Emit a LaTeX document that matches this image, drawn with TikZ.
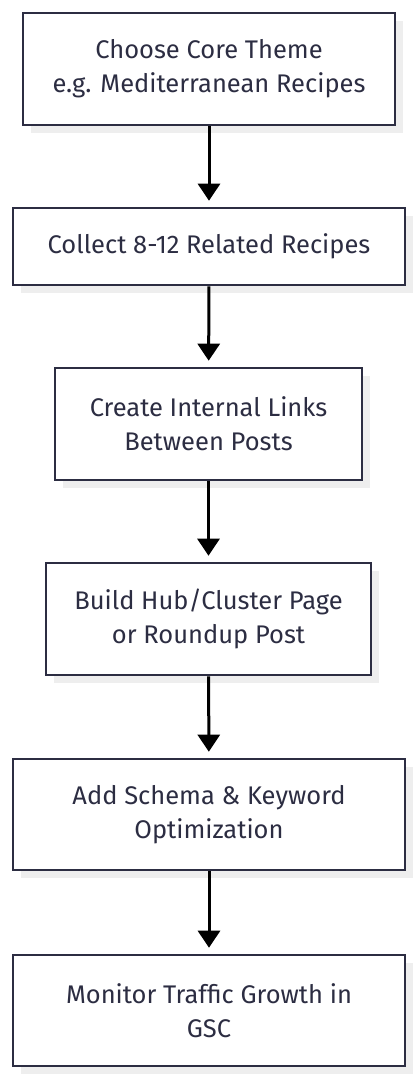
\documentclass[tikz,border=0pt]{standalone}
\usepackage{fontspec}
\setmainfont{Fira Sans}
\usepackage{tikz}
\usetikzlibrary{arrows.meta,positioning,shadows}
\usepackage{xcolor}
\definecolor{flowink}{RGB}{44,45,66}
\definecolor{flowshade}{RGB}{238,238,238}

\begin{document}
\begin{tikzpicture}[x=1pt,y=-1pt,>={Triangle[width=22pt,length=17pt]}, box/.style={draw=flowink,line width=2.6pt,fill=white,minimum height=112pt,align=center,text=flowink,font=\fontsize{25.5}{34}\selectfont,drop shadow={shadow xshift=8pt,shadow yshift=-8pt,fill=flowshade,opacity=1}}, link/.style={->,line width=3pt,black,shorten >=6pt}]
\useasboundingbox (0,0) rectangle (418,1080);
\node[box,minimum width=372pt] (theme) at (209,69) {Choose Core Theme\\e.g. Mediterranean Recipes};
\node[box,minimum width=392pt,minimum height=77pt] (collect) at (209,246.5) {Collect 8-12 Related Recipes};
\node[box,minimum width=307pt] (links) at (208.5,424) {Create Internal Links\\Between Posts};
\node[box,minimum width=325pt] (hub) at (208.5,619) {Build Hub/Cluster Page\\or Roundup Post};
\node[box,minimum width=392pt,minimum height=111pt] (schema) at (209,814.5) {Add Schema \& Keyword\\Optimization};
\node[box,minimum width=392pt,minimum height=111pt] (monitor) at (209,1010.5) {Monitor Traffic Growth in\\GSC};
% Step arrows
\draw[link] (theme) -- (collect);
\draw[link] (collect) -- (links);
\draw[link] (links) -- (hub);
\draw[link] (hub) -- (schema);
\draw[link] (schema) -- (monitor);
\end{tikzpicture}
\end{document}
